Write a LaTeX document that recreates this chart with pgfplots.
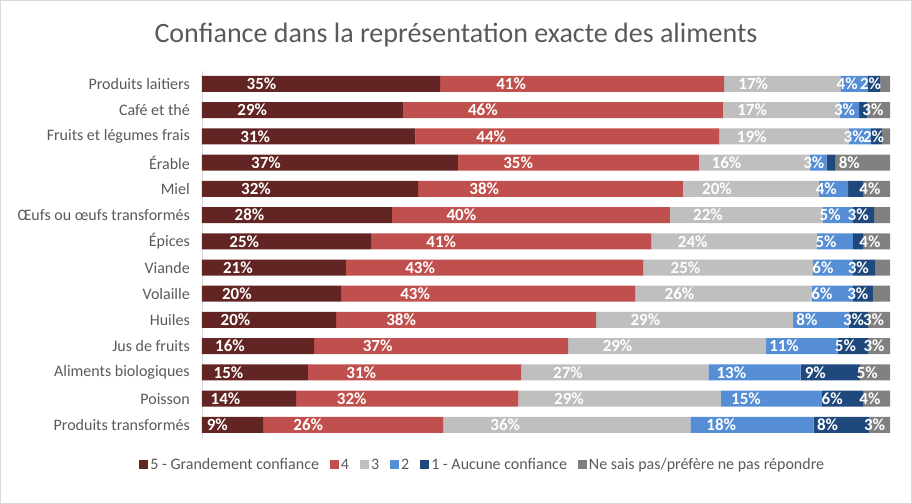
\documentclass[border=0pt]{standalone}
\usepackage{fontspec}
\setmainfont{Carlito}
\usepackage{pgfplots}
\usepackage{pgfplotstable}
\pgfplotsset{compat=1.18}

\definecolor{c5}{RGB}{99,37,35}
\definecolor{c4}{RGB}{192,80,77}
\definecolor{c3}{RGB}{191,191,191}
\definecolor{c2}{RGB}{85,142,213}
\definecolor{c1}{RGB}{31,73,125}
\definecolor{cns}{RGB}{128,128,128}
\definecolor{txt}{RGB}{89,89,89}

% parts of each bar and the labels Excel shows on them
\pgfplotstableread[col sep=comma]{
idx,a,b,c,d,e,f,la,lb,lc,ld,le,lf
0,34.6,41.3,16.9,3.9,1.9,1.4,35\%,41\%,17\%,4\%,2\%,{}
1,29.2,46.5,17.0,2.8,1.2,3.3,29\%,46\%,17\%,3\%,{},3\%
2,31.0,44.2,18.8,3.2,1.6,1.2,31\%,44\%,19\%,3\%,2\%,{}
3,37.2,35.0,16.1,2.5,1.3,7.9,37\%,35\%,16\%,3\%,{},8\%
4,31.4,38.5,19.8,4.2,2.2,3.9,32\%,38\%,20\%,4\%,{},4\%
5,27.6,40.4,22.2,4.4,3.1,2.3,28\%,40\%,22\%,5\%,3\%,{}
6,24.6,40.7,24.1,5.2,1.5,3.9,25\%,41\%,24\%,5\%,{},4\%
7,20.9,43.2,24.7,5.8,3.2,2.2,21\%,43\%,25\%,6\%,3\%,{}
8,20.3,42.7,25.6,6.0,2.9,2.5,20\%,43\%,26\%,6\%,3\%,{}
9,19.5,37.8,28.6,8.1,2.8,3.2,20\%,38\%,29\%,8\%,3\%,3\%
10,16.3,36.9,28.8,10.4,4.5,3.1,16\%,37\%,29\%,11\%,5\%,3\%
11,15.4,31.0,27.2,13.4,8.6,4.4,15\%,31\%,27\%,13\%,9\%,5\%
12,13.7,32.3,29.4,14.7,6.0,3.9,14\%,32\%,29\%,15\%,6\%,4\%
13,8.9,26.2,35.9,17.9,8.1,3.0,9\%,26\%,36\%,18\%,8\%,3\%
}\data

% one stacked segment: column, colour; label centred on the segment
% (the shift gets applied twice, hence a quarter of 6.88bp per unit)
\pgfplotsset{
  seg/.style 2 args={
    fill=#2, draw=none,
    nodes near coords,
    point meta=explicit symbolic,
    visualization depends on={\thisrow{#1} \as \segw},
    every node near coord/.style={anchor=center, xshift={-\segw*1.72645},
      text=white, font=\fontsize{17bp}{19bp}\selectfont\bfseries},
  },
}

\begin{document}
\begin{tikzpicture}
\begin{axis}[
  at={(0,0)}, anchor=south west,
  scale only axis, width=688bp, height=367.2bp,
  xbar stacked, bar width=16bp,
  xmin=0, xmax=100, ymin=-0.5, ymax=13.5, y dir=reverse,
  axis x line=none,
  axis y line*=left,
  y axis line style={draw=black!15, -},
  major tick length=0pt,
  ytick={0,...,13},
  yticklabels={Produits laitiers, Café et thé, Fruits et légumes frais, Érable, Miel,
    Œufs ou œufs transformés, Épices, Viande, Volaille, Huiles, Jus de fruits,
    Aliments biologiques, Poisson, Produits transformés},
  yticklabel style={font=\fontsize{16bp}{18bp}\selectfont, text=txt, inner sep=0pt, xshift=-12bp},
  legend style={at={(0.408,-0.0735)}, anchor=center, draw=none, fill=none,
    legend columns=-1, font=\fontsize{16bp}{18bp}\selectfont, text=txt,
    /tikz/every even column/.append style={column sep=9bp},
    inner sep=0pt},
  legend image code/.code={\fill[#1] (0bp,-4.5bp) rectangle (9bp,4.5bp);},
]
\addplot[seg={a}{c5}] table[x=a, y=idx, meta=la] {\data};
\addplot[seg={b}{c4}] table[x=b, y=idx, meta=lb] {\data};
\addplot[seg={c}{c3}] table[x=c, y=idx, meta=lc] {\data};
\addplot[seg={d}{c2}] table[x=d, y=idx, meta=ld] {\data};
\addplot[seg={e}{c1}] table[x=e, y=idx, meta=le] {\data};
\addplot[seg={f}{cns}] table[x=f, y=idx, meta=lf] {\data};
\legend{5 - Grandement confiance, 4, 3, 2, 1 - Aucune confiance, Ne sais pas/préfère ne pas répondre}
\end{axis}
\node[font=\fontsize{28bp}{32bp}\selectfont, text=txt] at (254bp,403bp)
  {Confiance dans la représentation exacte des aliments};
\draw[black!15, line width=0.75bp] (-201.6bp,-65.6bp) rectangle (709.6bp,437.6bp);
\end{tikzpicture}
\end{document}
